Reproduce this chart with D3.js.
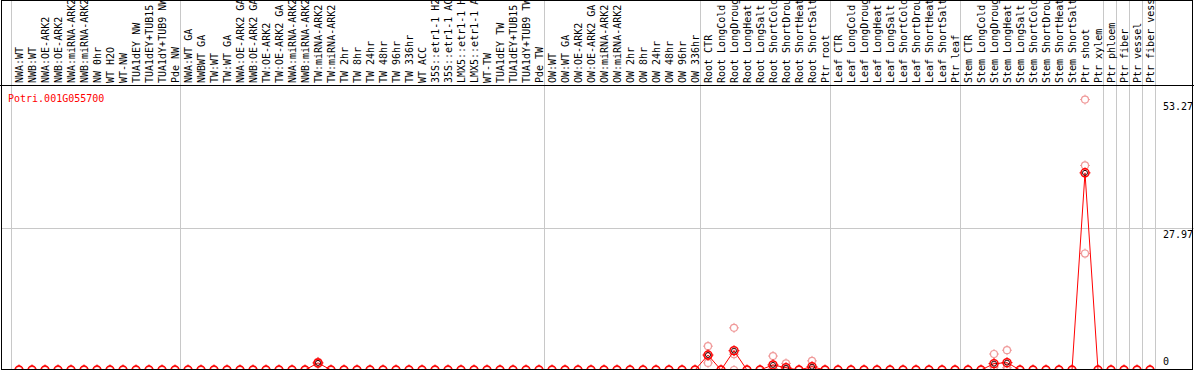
<!DOCTYPE html>
<html lang="en">
<head>
<meta charset="UTF-8">
<title>Potri.001G055700</title>
<script src="https://cdn.jsdelivr.net/npm/d3@7/dist/d3.min.js"></script>
<style>
  body { margin: 0; background: #fff; }
  svg { display: block; font-family: "DejaVu Sans Mono", monospace; font-size: 10px; }
</style>
</head>
<body>
<svg id="chart" width="1194" height="370"></svg>
<script>
// gene shown
var geneId = "Potri.001G055700";

// sample names (header)
var samples = [
  "NWA:WT","NWB:WT","NWA:OE-ARK2","NWB:OE-ARK2","NWA:miRNA-ARK2","NWB:miRNA-ARK2","NW 0hr","WT H2O","WT-NW","TUA1dEY NW",
  "TUA1dEY+TUB15 NW","TUA1dY+TUB9 NW","Pde NW",
  "NWA:WT GA","NWBWT GA","TW:WT","TW:WT GA","NWA:OE-ARK2 GA","NWB:OE-ARK2 GA","TW:OE-ARK2","TW:OE-ARK2 GA","NWA:miRNA-ARK2 GA","NWB:miRNA-ARK2 GA",
  "TW:miRNA-ARK2","TW:miRNA-ARK2 GA","TW 2hr","TW 8hr","TW 24hr","TW 48hr","TW 96hr","TW 336hr","WT ACC",
  "35S::etr1-1 H2O","35S::etr1-1 ACC","LMX5::etr1-1 H2O","LMX5::etr1-1 ACC","WT-TW","TUA1dEY TW","TUA1dEY+TUB15 TW","TUA1dY+TUB9 TW","Pde TW",
  "OW:WT","OW:WT GA","OW:OE-ARK2","OW:OE-ARK2 GA","OW:miRNA-ARK2","OW:miRNA-ARK2 GA","OW 2hr","OW 8hr","OW 24hr","OW 48hr","OW 96hr","OW 336hr",
  "Root CTR","Root LongCold","Root LongDrought","Root LongHeat","Root LongSalt","Root ShortCold","Root ShortDrought","Root ShortHeat","Root ShortSalt","Ptr root",
  "Leaf CTR","Leaf LongCold","Leaf LongDrought","Leaf LongHeat","Leaf LongSalt","Leaf ShortCold","Leaf ShortDrought","Leaf ShortHeat","Leaf ShortSalt","Ptr leaf",
  "Stem CTR","Stem LongCold","Stem LongDrought","Stem LongHeat","Stem LongSalt","Stem ShortCold","Stem ShortDrought","Stem ShortHeat","Stem ShortSalt","Ptr shoot",
  "Ptr xylem","Ptr phloem","Ptr fiber","Ptr vessel","Ptr fiber vessel"
];

// mean expression
var meanValues = [
  0,0,0,0,0,0,0,0,0,0,
  0,0,0,0,0,0,0,0,0,0,
  0,0,0,1.4,0,0,0,0,0,0,
  0,0,0,0,0,0,0,0,0,0,
  0,0,0,0,0,0,0,0,0,0,
  0,0,0,2.95,0,3.8,0,0,1.0,0.45,
  0,0.65,0,0,0,0,0,0,0,0,
  0,0,0,0,0,1.25,1.45,0,0,0,
  0,0,38.84,0,0,0,0,0
];

// replicates
var rep1 = [
  0,0,0,0,0,0,0,0,0,0,
  0,0,0,0,0,0,0,0,0,0,
  0,0,0,1.6,0,0,0,0,0,0,
  0,0,0,0,0,0,0,0,0,0,
  0,0,0,0,0,0,0,0,0,0,
  0,0,0,4.7,0,8.3,0,0,2.75,1.3,
  0,1.8,0,0,0,0,0,0,0,0,
  0,0,0,0,0,3.15,3.9,0,0,0,
  0,0,53.27,0,0,0,0,0
];
var rep2 = [
  0,0,0,0,0,0,0,0,0,0,
  0,0,0,0,0,0,0,0,0,0,
  0,0,0,1.4,0,0,0,0,0,0,
  0,0,0,0,0,0,0,0,0,0,
  0,0,0,0,0,0,0,0,0,0,
  0,0,0,1.4,0,3.1,0,0,0.25,0.05,
  0,0.15,0,0,0,0,0,0,0,0,
  0,0,0,0,0,0.6,0.45,0,0,0,
  0,0,40.3,0,0,0,0,0
];
var rep3 = [
  0,0,0,0,0,0,0,0,0,0,
  0,0,0,0,0,0,0,0,0,0,
  0,0,0,1.2,0,0,0,0,0,0,
  0,0,0,0,0,0,0,0,0,0,
  0,0,0,0,0,0,0,0,0,0,
  0,0,0,2.75,0,0,0,0,0,0,
  0,0,0,0,0,0,0,0,0,0,
  0,0,0,0,0,0,0,0,0,0,
  0,0,22.95,0,0,0,0,0
];

// first sample of each group (a grey line before it)
var groupStarts = [0,13,41,53,63,73,84,85,86,87,88];
var yTicks = [0, 27.97, 53.27];

var svg = d3.select("#chart");
var W = 1194, H = 370, headerBottom = 85;

var xScale = d3.scaleBand()
  .domain(d3.range(samples.length))
  .range([12.5, 12.5 + 13 * samples.length]);
var cx = function(i) { return xScale(i) + xScale.bandwidth() / 2; };

var yScale = d3.scaleLinear().domain([0, 53.27]).range([370, 99.6]);

// grey grid
svg.append("g").selectAll("line")
  .data(groupStarts).enter().append("line")
  .attr("x1", function(d) { return (d < samples.length ? xScale(d) : xScale(samples.length - 1) + 13) - 1; })
  .attr("x2", function(d) { return (d < samples.length ? xScale(d) : xScale(samples.length - 1) + 13) - 1; })
  .attr("y1", 0).attr("y2", H)
  .attr("stroke", "#c8c8c8").attr("stroke-width", 1);

svg.append("line")
  .attr("x1", 1).attr("x2", W)
  .attr("y1", Math.round(yScale(27.97)) + 0.5).attr("y2", Math.round(yScale(27.97)) + 0.5)
  .attr("stroke", "#c8c8c8");

// header labels
svg.append("clipPath").attr("id", "hclip")
  .append("rect").attr("x", 0).attr("y", 1).attr("width", W).attr("height", headerBottom - 1);

svg.append("g").attr("clip-path", "url(#hclip)")
  .selectAll("text").data(samples).enter().append("text")
  .attr("transform", function(d, i) { return "translate(" + (cx(i) + 3.5) + ",83) rotate(-90)"; })
  .attr("fill", "#000")
  .text(function(d) { return d; });

// y labels
svg.append("g").selectAll("text").data(yTicks).enter().append("text")
  .attr("x", 1163)
  .attr("y", function(d) { return Math.min(yScale(d) + 10, 365); })
  .attr("fill", "#000")
  .text(function(d) { return d === 0 ? "0" : d3.format(".2f")(d); });

svg.append("text")
  .attr("x", 8).attr("y", 102)
  .attr("fill", "#ff0000")
  .text(geneId);

// marker: circle with small ticks
function marker(g, x, y, r, color, sw) {
  g.append("circle").attr("cx", x).attr("cy", y).attr("r", r)
    .attr("fill", "none").attr("stroke", color).attr("stroke-width", sw);
  g.append("path")
    .attr("d", "M" + x + "," + (y - r - 1.5) + "V" + (y - r) +
               "M" + x + "," + (y + r) + "V" + (y + r + 1.5) +
               "M" + (x - r - 1.5) + "," + y + "H" + (x - r) +
               "M" + (x + r) + "," + y + "H" + (x + r + 1.5))
    .attr("stroke", color).attr("stroke-width", 1);
}

// replicate points
var repG = svg.append("g");
[rep1, rep2, rep3].forEach(function(rep) {
  rep.forEach(function(v, i) { marker(repG, cx(i), yScale(v), 3.5, "#f09a9a", 1.2); });
});

// mean line
var line = d3.line()
  .x(function(d, i) { return cx(i); })
  .y(function(d) { return yScale(d); });
svg.append("path").datum(meanValues)
  .attr("d", line)
  .attr("fill", "none").attr("stroke", "#ff0000").attr("stroke-width", 1);

// mean points
var meanG = svg.append("g");
meanValues.forEach(function(v, i) {
  marker(meanG, cx(i), yScale(v), 4, "#ff0000", 1.5);
  if (v > 0) {
    meanG.append("circle").attr("cx", cx(i)).attr("cy", yScale(v)).attr("r", 2.5)
      .attr("fill", "none").attr("stroke", "#300").attr("stroke-width", 1);
  }
});

// frame
svg.append("line").attr("x1", 0).attr("x2", W).attr("y1", headerBottom + 0.5).attr("y2", headerBottom + 0.5)
  .attr("stroke", "#000");
svg.append("rect").attr("x", 1.5).attr("y", 0.5).attr("width", 1191).attr("height", 369)
  .attr("fill", "none").attr("stroke", "#000");
</script>
</body>
</html>
